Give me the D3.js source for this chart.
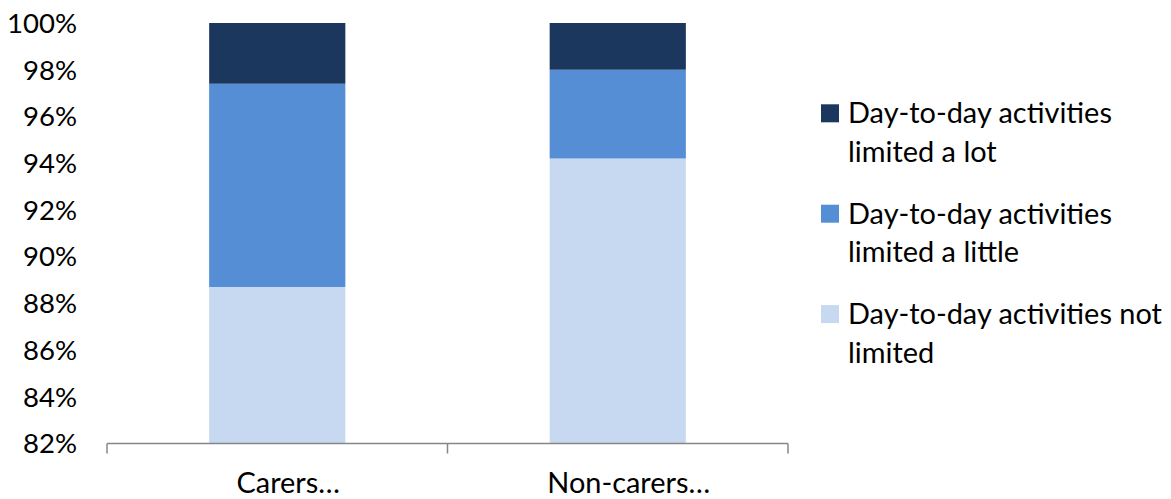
<!DOCTYPE html>
<html>
<head>
<meta charset="utf-8">
<script src="https://cdn.jsdelivr.net/npm/d3@7"></script>
<style>
  html, body { margin: 0; padding: 0; background: #ffffff; }
  svg { display: block; }
  text { font-family: Lato, "Open Sans", sans-serif; fill: #000; }
</style>
</head>
<body>
<svg id="chart" width="1171" height="499"></svg>
<script>
// Share of people by how much day-to-day activities are limited
const categories = ["Carers…", "Non-carers…"];
const seriesNames = [
  "Day-to-day activities not limited",
  "Day-to-day activities limited a little",
  "Day-to-day activities limited a lot"
];
const notLimited    = [88.7, 94.2];
const limitedLittle = [8.7, 3.8];
const limitedLot    = [2.6, 2.0];
const yTicks = [82, 84, 86, 88, 90, 92, 94, 96, 98, 100];
const legendLines = [
  ["Day-to-day activities", "limited a lot"],
  ["Day-to-day activities", "limited a little"],
  ["Day-to-day activities not", "limited"]
];
const colors = ["#c6d9f1", "#558ed5", "#1b375e"];

const svg = d3.select("#chart");
const plot = { left: 107, right: 788, top: 23, bottom: 443.5 };

const x = d3.scaleBand().domain(categories).range([plot.left, plot.right]).paddingInner(0.6).paddingOuter(0.3);
const y = d3.scaleLinear().domain([82, 100]).range([plot.bottom, plot.top]);

// fit a font size so that a sample string reaches a target width
function fitSize(sample, targetWidth) {
  const t = svg.append("text").attr("font-size", 100).text(sample);
  const w = t.node().getComputedTextLength();
  t.remove();
  return 100 * targetWidth / w;
}
const tickSize = fitSize("100%", 70);
const legendSize = fitSize("Day-to-day activities", 264);
const catSize = fitSize("Non-carers…", 163);

// stacked series
const rows = categories.map((c, i) => ({
  cat: c,
  [seriesNames[0]]: notLimited[i],
  [seriesNames[1]]: limitedLittle[i],
  [seriesNames[2]]: limitedLot[i]
}));
const stack = d3.stack().keys(seriesNames);
const stacked = stack(rows);

// clip so the stack starts at the axis baseline
svg.append("clipPath").attr("id", "plotclip")
  .append("rect").attr("x", plot.left).attr("y", plot.top - 1)
  .attr("width", plot.right - plot.left).attr("height", plot.bottom - plot.top + 1);

const g = svg.append("g").attr("clip-path", "url(#plotclip)");
g.selectAll("g.series").data(stacked).join("g")
  .attr("class", "series")
  .attr("fill", (d, i) => colors[i])
  .selectAll("rect").data(d => d).join("rect")
  .attr("x", d => x(d.data.cat))
  .attr("width", x.bandwidth())
  .attr("y", d => y(d[1]))
  .attr("height", d => y(Math.max(d[0], 82)) - y(d[1]));

// y axis labels (no axis line)
const yAxis = d3.axisLeft(y).tickValues(yTicks).tickSize(0).tickPadding(0)
  .tickFormat(d => d + "%");
const yg = svg.append("g").attr("transform", `translate(${plot.left - 30},0)`).call(yAxis);
yg.select(".domain").remove();
yg.selectAll("text").attr("font-size", tickSize).attr("font-family", "Lato, 'Open Sans', sans-serif")
  .attr("fill", "#000").attr("dy", "0.34em");

// x axis with boundary ticks
const xg = svg.append("g");
xg.append("line").attr("x1", plot.left).attr("x2", plot.right)
  .attr("y1", plot.bottom).attr("y2", plot.bottom)
  .attr("stroke", "#868686").attr("stroke-width", 1.5);
const bounds = [plot.left, (x(categories[0]) + x.bandwidth() + x(categories[1])) / 2, plot.right];
xg.selectAll("line.tick").data(bounds).join("line").attr("class", "tick")
  .attr("x1", d => d).attr("x2", d => d)
  .attr("y1", plot.bottom).attr("y2", plot.bottom + 10)
  .attr("stroke", "#868686").attr("stroke-width", 1.5);
xg.selectAll("text").data(categories).join("text")
  .attr("x", d => x(d) + x.bandwidth() / 2 + 11)
  .attr("y", 493)
  .attr("text-anchor", "middle")
  .attr("font-size", catSize)
  .text(d => d);

// legend, top entry is the top of the stack
const legendOrder = [2, 1, 0];
const lg = svg.append("g").attr("transform", "translate(821,0)");
const entries = lg.selectAll("g").data(legendOrder).join("g")
  .attr("transform", (d, i) => `translate(0,${123.3 + i * 100.4})`);
entries.append("rect").attr("x", 0).attr("y", -19).attr("width", 18).attr("height", 18)
  .attr("fill", d => colors[d]);
entries.each(function(d, i) {
  const lines = legendLines[i];
  d3.select(this).selectAll("text").data(lines).join("text")
    .attr("x", 27).attr("y", (l, j) => j * 38.7)
    .attr("font-size", legendSize)
    .text(l => l);
});
</script>
</body>
</html>
